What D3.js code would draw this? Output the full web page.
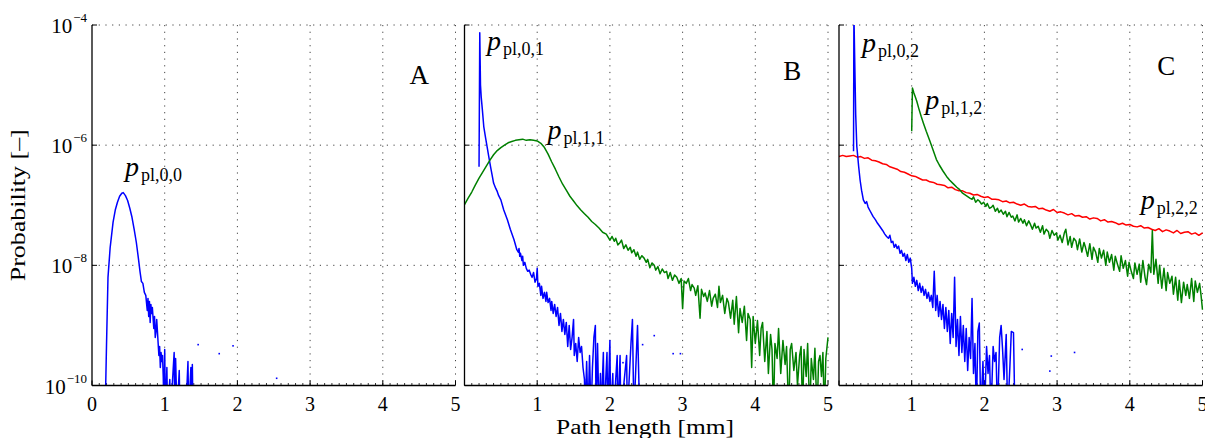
<!DOCTYPE html>
<html>
<head>
<meta charset="utf-8">
<script src="https://cdn.jsdelivr.net/npm/d3@7"></script>
<style>
  body { margin: 0; background: #fff; }
  svg { font-family: "Liberation Serif", "DejaVu Serif", serif; }
</style>
</head>
<body>
<div id="chart"></div>
<script>
// x ticks and y ticks (log10 of probability)
var xTicks = [0, 1, 2, 3, 4, 5];
var yTicks = [-4, -6, -8, -10];
var panelNames = ["A", "B", "C"];

// series: [path length mm, log10 probability]; -10.5 = empty bin (below axis)
var p00 = [[0.18,-10.5],[0.2,-9.3],[0.22,-8.2],[0.25,-7.7],[0.29,-7.28],[0.32,-7.08],[0.35,-6.95],[0.38,-6.85],[0.41,-6.8],[0.43,-6.79],[0.46,-6.84],[0.49,-6.92],[0.52,-7.05],[0.55,-7.2],[0.58,-7.4],[0.61,-7.62],[0.64,-7.9],[0.66,-8.1],[0.68,-8.27],[0.7,-8.3],[0.72,-8.45],[0.74,-8.5],[0.76,-8.75],[0.77,-8.55],[0.78,-8.85],[0.79,-8.6],[0.8,-8.95],[0.81,-8.65],[0.82,-8.8],[0.83,-8.7],[0.85,-9.05],[0.86,-8.85],[0.87,-9.2],[0.88,-9.1],[0.89,-8.9],[0.91,-9.3],[0.92,-9.5],[0.93,-9.35],[0.94,-9.7],[0.95,-9.45],[0.96,-9.6],[0.97,-9.5],[0.98,-9.85],[0.99,-10.5],[1.0,-9.4],[1.01,-10.5],[1.03,-9.7],[1.04,-10.5],[1.07,-9.9],[1.08,-10.5],[1.13,-9.45],[1.14,-10.5],[1.15,-9.55],[1.17,-10.5],[1.2,-9.75],[1.21,-10.5],[1.28,-10.0],[1.29,-10.5],[1.32,-9.6],[1.33,-10.5],[1.36,-9.7],[1.37,-10.5],[1.38,-9.65],[1.39,-10.5]];
var p00dots = [[1.46,-9.32],[1.75,-9.47],[1.94,-9.34],[2.54,-9.88]];

var p01 = [[0.2,-6.36],[0.21,-4.13],[0.22,-5.0],[0.23,-5.2],[0.245,-5.4],[0.265,-5.69],[0.29,-5.88],[0.31,-6.02],[0.335,-6.2],[0.36,-6.37],[0.38,-6.5],[0.4,-6.63],[0.43,-6.72],[0.45,-6.77],[0.47,-6.84],[0.5,-6.91],[0.54,-7.08],[0.59,-7.24],[0.63,-7.4],[0.68,-7.57],[0.72,-7.74],[0.74,-7.78],[0.75,-7.72],[0.76,-7.85],[0.77,-7.8],[0.79,-7.92],[0.8,-7.85],[0.81,-8.0],[0.83,-7.95],[0.85,-8.05],[0.87,-8.1],[0.89,-8.08],[0.91,-8.15],[0.93,-8.2],[0.95,-8.12],[0.97,-8.28],[0.99,-8.22],[1.0,-8.05],[1.01,-8.35],[1.03,-8.3],[1.05,-8.5],[1.06,-8.35],[1.08,-8.55],[1.1,-8.45],[1.12,-8.6],[1.13,-8.45],[1.15,-8.62],[1.17,-8.55],[1.19,-8.75],[1.2,-8.6],[1.22,-8.8],[1.24,-8.65],[1.26,-8.85],[1.28,-8.7],[1.3,-9.0],[1.32,-8.8],[1.34,-9.1],[1.36,-8.9],[1.38,-9.15],[1.4,-8.95],[1.42,-9.35],[1.44,-9.0],[1.46,-9.4],[1.48,-9.2],[1.5,-8.9],[1.51,-9.5],[1.53,-9.3],[1.55,-9.6],[1.57,-9.2],[1.59,-9.45],[1.61,-9.35],[1.63,-9.7],[1.65,-9.9],[1.66,-10.5],[1.68,-9.6],[1.7,-10.5],[1.72,-9.5],[1.74,-10.5],[1.76,-9.7],[1.78,-9.2],[1.8,-9.0],[1.81,-10.5],[1.83,-9.3],[1.85,-10.5],[1.87,-9.8],[1.88,-10.5],[1.91,-9.45],[1.92,-10.5],[1.96,-9.45],[1.97,-10.5],[2.0,-9.25],[2.01,-10.5],[2.04,-9.8],[2.05,-10.5],[2.1,-9.5],[2.11,-10.5],[2.14,-9.5],[2.15,-10.5],[2.23,-9.5],[2.24,-10.5],[2.29,-9.3],[2.31,-8.9],[2.33,-10.5],[2.38,-9.0],[2.41,-10.5]];
var p01dots = [[2.18,-9.62],[2.45,-9.32],[2.61,-9.17],[2.87,-9.47],[2.97,-9.47]];

var p11 = [[0.0,-6.99],[0.05,-6.88],[0.1,-6.78],[0.15,-6.66],[0.2,-6.55],[0.25,-6.45],[0.3,-6.35],[0.35,-6.25],[0.4,-6.16],[0.45,-6.09],[0.5,-6.04],[0.55,-6.0],[0.6,-5.96],[0.65,-5.94],[0.7,-5.92],[0.75,-5.91],[0.8,-5.9],[0.85,-5.92],[0.9,-5.91],[0.95,-5.92],[1.0,-5.93],[1.05,-5.97],[1.1,-6.04],[1.15,-6.15],[1.2,-6.28],[1.25,-6.4],[1.3,-6.53],[1.35,-6.65],[1.4,-6.75],[1.45,-6.85],[1.5,-6.93],[1.55,-7.01],[1.6,-7.08],[1.65,-7.14],[1.7,-7.2],[1.75,-7.27],[1.8,-7.32],[1.85,-7.38],[1.9,-7.45],[1.95,-7.48],[2.0,-7.58],[2.03,-7.52],[2.06,-7.6],[2.08,-7.55],[2.11,-7.66],[2.14,-7.62],[2.16,-7.58],[2.19,-7.72],[2.22,-7.66],[2.25,-7.75],[2.28,-7.7],[2.3,-7.79],[2.33,-7.74],[2.36,-7.85],[2.38,-7.78],[2.41,-7.9],[2.44,-7.84],[2.47,-7.88],[2.5,-7.95],[2.52,-7.9],[2.55,-8.04],[2.58,-7.96],[2.61,-8.0],[2.63,-8.08],[2.66,-8.02],[2.69,-8.14],[2.72,-8.06],[2.75,-8.12],[2.78,-8.1],[2.8,-8.22],[2.83,-8.12],[2.86,-8.25],[2.89,-8.16],[2.92,-8.2],[2.95,-8.3],[2.98,-8.22],[3.0,-8.72],[3.02,-8.26],[3.05,-8.3],[3.08,-8.22],[3.11,-8.42],[3.13,-8.32],[3.16,-8.38],[3.18,-8.5],[3.21,-8.34],[3.24,-8.88],[3.26,-8.4],[3.29,-8.52],[3.31,-8.46],[3.34,-8.6],[3.37,-8.42],[3.4,-8.68],[3.42,-8.55],[3.45,-8.48],[3.48,-8.7],[3.5,-8.35],[3.52,-8.62],[3.55,-8.5],[3.58,-8.8],[3.61,-8.55],[3.63,-8.62],[3.66,-8.88],[3.69,-8.58],[3.71,-8.98],[3.74,-8.52],[3.77,-9.12],[3.79,-8.72],[3.82,-8.95],[3.85,-8.68],[3.88,-9.25],[3.9,-8.8],[3.93,-8.9],[3.95,-9.7],[3.97,-8.85],[4.0,-9.3],[4.03,-8.92],[4.06,-9.5],[4.08,-9.05],[4.1,-8.95],[4.13,-9.6],[4.16,-9.1],[4.18,-9.8],[4.21,-9.15],[4.23,-9.4],[4.25,-10.5],[4.27,-9.3],[4.3,-9.55],[4.32,-9.05],[4.35,-9.8],[4.38,-9.25],[4.41,-9.65],[4.43,-9.35],[4.46,-10.5],[4.48,-9.4],[4.5,-9.3],[4.53,-9.75],[4.56,-9.45],[4.58,-10.0],[4.61,-9.5],[4.63,-9.35],[4.65,-10.5],[4.67,-9.4],[4.7,-9.85],[4.72,-9.3],[4.75,-10.5],[4.77,-9.55],[4.8,-9.9],[4.82,-9.38],[4.85,-10.5],[4.87,-9.6],[4.89,-9.5],[4.91,-9.85],[4.93,-9.45],[4.95,-10.5],[4.97,-9.55],[5.0,-9.2]];

var p02 = [[0.2,-6.1],[0.205,-3.8],[0.215,-4.5],[0.23,-5.5],[0.245,-6.02],[0.27,-6.35],[0.29,-6.58],[0.31,-6.75],[0.335,-6.91],[0.36,-6.97],[0.38,-6.94],[0.4,-7.03],[0.43,-7.1],[0.47,-7.19],[0.5,-7.24],[0.53,-7.3],[0.56,-7.35],[0.6,-7.42],[0.63,-7.48],[0.655,-7.52],[0.68,-7.55],[0.7,-7.5],[0.72,-7.62],[0.74,-7.6],[0.76,-7.7],[0.78,-7.65],[0.8,-7.72],[0.82,-7.68],[0.84,-7.8],[0.86,-7.75],[0.88,-7.85],[0.9,-7.8],[0.92,-7.92],[0.94,-7.82],[0.96,-7.95],[0.98,-7.88],[1.0,-8.05],[1.01,-8.3],[1.03,-8.2],[1.05,-8.35],[1.07,-8.25],[1.09,-8.42],[1.11,-8.3],[1.13,-8.45],[1.15,-8.35],[1.17,-8.5],[1.19,-8.4],[1.21,-8.55],[1.23,-8.45],[1.25,-8.6],[1.27,-8.5],[1.29,-8.7],[1.31,-8.1],[1.33,-8.75],[1.35,-8.5],[1.37,-8.85],[1.39,-8.6],[1.41,-8.9],[1.43,-8.65],[1.45,-9.05],[1.47,-8.7],[1.49,-9.1],[1.51,-8.75],[1.53,-9.3],[1.55,-8.8],[1.57,-9.2],[1.59,-8.2],[1.61,-9.35],[1.63,-8.9],[1.65,-9.5],[1.67,-8.85],[1.69,-9.45],[1.71,-9.0],[1.73,-9.6],[1.75,-9.05],[1.77,-9.75],[1.79,-9.2],[1.81,-9.55],[1.83,-8.55],[1.85,-9.8],[1.87,-9.3],[1.89,-10.5],[1.91,-9.1],[1.93,-8.96],[1.95,-10.5],[1.98,-9.6],[2.0,-10.5],[2.03,-9.35],[2.05,-9.8],[2.07,-9.5],[2.09,-10.5],[2.12,-9.35],[2.14,-9.6],[2.16,-9.45],[2.18,-10.5],[2.21,-9.2],[2.23,-9.0],[2.25,-9.4],[2.27,-9.9],[2.3,-9.15],[2.32,-10.5],[2.35,-9.7],[2.37,-9.1],[2.4,-9.12],[2.42,-10.5]];
var p02dots = [[2.52,-9.4],[2.9,-9.76],[2.92,-9.51],[3.24,-9.45]];

var p12 = [[1.0,-5.77],[1.01,-5.05],[1.03,-5.13],[1.05,-5.2],[1.07,-5.27],[1.1,-5.4],[1.13,-5.52],[1.16,-5.63],[1.2,-5.77],[1.25,-5.93],[1.3,-6.1],[1.34,-6.24],[1.38,-6.33],[1.43,-6.43],[1.48,-6.52],[1.52,-6.58],[1.57,-6.64],[1.62,-6.7],[1.66,-6.74],[1.7,-6.8],[1.75,-6.84],[1.8,-6.88],[1.83,-6.9],[1.85,-6.86],[1.88,-6.95],[1.91,-6.91],[1.93,-6.93],[1.96,-6.98],[1.99,-6.95],[2.02,-7.02],[2.04,-6.97],[2.07,-7.05],[2.1,-7.03],[2.12,-7.0],[2.15,-7.1],[2.18,-7.05],[2.2,-7.12],[2.23,-7.08],[2.26,-7.15],[2.29,-7.1],[2.31,-7.19],[2.34,-7.12],[2.37,-7.2],[2.39,-7.18],[2.42,-7.26],[2.45,-7.16],[2.47,-7.28],[2.5,-7.22],[2.53,-7.3],[2.55,-7.24],[2.58,-7.34],[2.61,-7.26],[2.63,-7.31],[2.66,-7.4],[2.69,-7.3],[2.71,-7.38],[2.74,-7.35],[2.77,-7.45],[2.8,-7.34],[2.82,-7.48],[2.85,-7.4],[2.88,-7.44],[2.9,-7.55],[2.93,-7.42],[2.96,-7.5],[2.99,-7.46],[3.01,-7.58],[3.04,-7.5],[3.07,-7.62],[3.1,-7.46],[3.12,-7.4],[3.15,-7.66],[3.18,-7.52],[3.2,-7.7],[3.23,-7.55],[3.26,-7.6],[3.28,-7.74],[3.31,-7.56],[3.34,-7.78],[3.37,-7.62],[3.39,-7.7],[3.42,-7.85],[3.45,-7.64],[3.48,-7.9],[3.5,-7.7],[3.53,-7.78],[3.56,-7.95],[3.58,-7.72],[3.61,-7.88],[3.64,-7.75],[3.67,-8.0],[3.69,-7.78],[3.72,-7.95],[3.75,-7.82],[3.78,-8.08],[3.8,-7.85],[3.83,-7.98],[3.86,-8.1],[3.88,-7.84],[3.91,-8.05],[3.94,-7.92],[3.97,-8.18],[3.99,-7.95],[4.02,-8.1],[4.05,-8.22],[4.07,-7.96],[4.1,-8.15],[4.13,-7.98],[4.15,-8.28],[4.18,-7.92],[4.21,-8.2],[4.23,-8.32],[4.26,-7.98],[4.29,-8.12],[4.31,-7.42],[4.33,-8.15],[4.36,-7.9],[4.39,-8.3],[4.41,-8.0],[4.44,-8.38],[4.47,-8.05],[4.5,-8.42],[4.52,-8.12],[4.55,-8.3],[4.58,-8.18],[4.6,-8.48],[4.63,-8.2],[4.66,-8.58],[4.68,-8.25],[4.71,-8.62],[4.74,-8.28],[4.77,-8.5],[4.79,-8.32],[4.82,-8.55],[4.85,-8.22],[4.88,-8.6],[4.9,-8.26],[4.93,-8.45],[4.96,-8.3],[4.98,-8.5],[5.0,-8.74]];

var p22 = [[0.0,-6.19],[0.05,-6.17],[0.1,-6.19],[0.15,-6.18],[0.2,-6.17],[0.25,-6.2],[0.3,-6.19],[0.35,-6.22],[0.4,-6.21],[0.45,-6.25],[0.5,-6.26],[0.55,-6.28],[0.6,-6.31],[0.65,-6.32],[0.7,-6.36],[0.75,-6.38],[0.8,-6.4],[0.85,-6.44],[0.9,-6.45],[0.95,-6.48],[1.0,-6.51],[1.05,-6.52],[1.1,-6.55],[1.15,-6.58],[1.2,-6.58],[1.25,-6.61],[1.3,-6.62],[1.35,-6.65],[1.4,-6.66],[1.45,-6.67],[1.5,-6.71],[1.55,-6.7],[1.6,-6.74],[1.65,-6.76],[1.7,-6.76],[1.75,-6.79],[1.8,-6.8],[1.85,-6.83],[1.9,-6.82],[1.95,-6.85],[2.0,-6.87],[2.05,-6.86],[2.1,-6.9],[2.15,-6.9],[2.2,-6.91],[2.25,-6.94],[2.3,-6.93],[2.35,-6.96],[2.4,-6.95],[2.45,-6.98],[2.5,-7.0],[2.55,-6.98],[2.6,-7.02],[2.65,-7.03],[2.7,-7.02],[2.75,-7.06],[2.8,-7.05],[2.85,-7.08],[2.9,-7.1],[2.95,-7.07],[3.0,-7.12],[3.05,-7.11],[3.1,-7.13],[3.15,-7.16],[3.2,-7.14],[3.25,-7.18],[3.3,-7.17],[3.35,-7.2],[3.4,-7.19],[3.45,-7.23],[3.5,-7.21],[3.55,-7.22],[3.6,-7.26],[3.65,-7.24],[3.7,-7.28],[3.75,-7.27],[3.8,-7.29],[3.85,-7.32],[3.9,-7.3],[3.95,-7.33],[4.0,-7.32],[4.05,-7.35],[4.1,-7.36],[4.15,-7.34],[4.2,-7.38],[4.25,-7.37],[4.3,-7.4],[4.35,-7.42],[4.4,-7.39],[4.45,-7.44],[4.5,-7.41],[4.55,-7.43],[4.6,-7.46],[4.65,-7.42],[4.7,-7.47],[4.75,-7.45],[4.8,-7.44],[4.85,-7.48],[4.9,-7.46],[4.95,-7.5],[5.0,-7.46]];

var panels = [
  { name: "A", left: 92, letter: [4.5, -4.98],
    series: [{ d: p00, dots: p00dots, color: "#0000ff", label: "pl,0,0", at: [0.455, -6.51] }] },
  { name: "B", left: 464.5, letter: [4.51, -4.92],
    series: [{ d: p01, dots: p01dots, color: "#0000ff", label: "pl,0,1", at: [0.31, -4.42] },
             { d: p11, dots: [], color: "#008000", label: "pl,1,1", at: [1.14, -5.9] }] },
  { name: "C", left: 839, letter: [4.5, -4.83],
    series: [{ d: p22, dots: [], color: "#ff0000", label: "pl,2,2", at: [4.15, -7.06] },
             { d: p12, dots: [], color: "#008000", label: "pl,1,2", at: [1.185, -5.4] },
             { d: p02, dots: p02dots, color: "#0000ff", label: "pl,0,2", at: [0.317, -4.45] }] }
];

var W = 1205, H = 438, marginTop = 25, pw = 363.5, ph = 360.5;

var svg = d3.select("#chart").append("svg").attr("width", W).attr("height", H);

var x = d3.scaleLinear().domain([0, 5]).range([0, pw]);
var y = d3.scaleLinear().domain([-10, -4]).range([ph, 0]);

var line = d3.line()
  .x(function(d){ return x(d[0]); })
  .y(function(d){ return y(d[1]); });

panels.forEach(function(p, i){
  var g = svg.append("g").attr("transform", "translate(" + p.left + "," + marginTop + ")");

  g.append("clipPath").attr("id", "clip" + i)
    .append("rect").attr("width", pw + 1).attr("height", ph);

  // grid
  g.selectAll("line.gx").data(xTicks.slice(1)).enter().append("line")
    .attr("x1", function(d){ return x(d); }).attr("x2", function(d){ return x(d); })
    .attr("y1", 0).attr("y2", ph)
    .style("stroke", "#444").style("stroke-width", 1).style("stroke-dasharray", "1.2,5.5");
  g.selectAll("line.gy").data(yTicks.slice(0, 3)).enter().append("line")
    .attr("x1", 0).attr("x2", pw)
    .attr("y1", function(d){ return y(d); }).attr("y2", function(d){ return y(d); })
    .style("stroke", "#444").style("stroke-width", 1).style("stroke-dasharray", "1.2,5.5");

  // minor x ticks
  g.selectAll("line.mx").data(d3.range(1, 50)).enter().append("line")
    .attr("x1", function(d){ return x(d / 10); }).attr("x2", function(d){ return x(d / 10); })
    .attr("y1", ph).attr("y2", ph - 2.5)
    .style("stroke", "#000").style("stroke-width", 0.8);
  // major ticks
  g.selectAll("line.tx").data(xTicks).enter().append("line")
    .attr("x1", function(d){ return x(d); }).attr("x2", function(d){ return x(d); })
    .attr("y1", ph).attr("y2", ph - 5)
    .style("stroke", "#000").style("stroke-width", 1);
  g.selectAll("line.ty").data(yTicks).enter().append("line")
    .attr("x1", 0).attr("x2", 5)
    .attr("y1", function(d){ return y(d); }).attr("y2", function(d){ return y(d); })
    .style("stroke", "#000").style("stroke-width", 1);

  // series
  var plot = g.append("g").attr("clip-path", "url(#clip" + i + ")");
  p.series.forEach(function(s){
    plot.append("path").datum(s.d).attr("d", line)
      .style("fill", "none").style("stroke", s.color).style("stroke-width", 1.5)
      .style("stroke-linejoin", "round");
    plot.selectAll(null).data(s.dots).enter().append("rect")
      .attr("x", function(d){ return x(d[0]) - 0.8; })
      .attr("y", function(d){ return y(d[1]) - 0.8; })
      .attr("width", 1.6).attr("height", 1.6)
      .style("fill", s.color);
  });

  // axis lines (left + bottom)
  g.append("line").attr("x1", 0).attr("x2", 0).attr("y1", 0).attr("y2", ph)
    .style("stroke", "#000").style("stroke-width", 1.3);
  g.append("line").attr("x1", 0).attr("x2", pw).attr("y1", ph).attr("y2", ph)
    .style("stroke", "#000").style("stroke-width", 1.3);

  // x tick labels
  g.selectAll("text.xt").data(i === 0 ? xTicks : xTicks.slice(1)).enter().append("text")
    .attr("x", function(d){ return x(d); }).attr("y", ph + 25)
    .attr("text-anchor", "middle").style("font-size", "20px")
    .text(function(d){ return d; });

  // y tick labels on the first panel only
  if (i === 0) {
    yTicks.forEach(function(t){
      var tx = g.append("text").attr("x", -5).attr("y", y(t) + 8)
        .attr("text-anchor", "end").style("font-size", "21px");
      tx.append("tspan").text("10");
      tx.append("tspan").attr("dx", 1).attr("dy", -11).style("font-size", "13px").text("\u2212" + (-t));
    });
  }

  // panel letter
  g.append("text").attr("x", x(p.letter[0])).attr("y", y(p.letter[1]))
    .attr("text-anchor", "middle").style("font-size", "27px").text(p.name);

  // curve labels
  p.series.forEach(function(s){
    var t = g.append("text").attr("x", x(s.at[0])).attr("y", y(s.at[1]));
    t.append("tspan").style("font-style", "italic").style("font-size", "28px").text("p");
    t.append("tspan").attr("dx", 2).attr("dy", 5).style("font-size", "18px").text(s.label);
  });
});

// axis titles
svg.append("text").attr("x", 645).attr("y", 434)
  .attr("text-anchor", "middle").style("font-size", "20px")
  .attr("textLength", 178).attr("lengthAdjust", "spacingAndGlyphs")
  .text("Path length [mm]");
svg.append("text").attr("transform", "translate(25," + (marginTop + ph / 2) + ") rotate(-90)")
  .attr("text-anchor", "middle").style("font-size", "20px")
  .attr("textLength", 152).attr("lengthAdjust", "spacingAndGlyphs")
  .text("Probability [\u2013]");
</script>
</body>
</html>
